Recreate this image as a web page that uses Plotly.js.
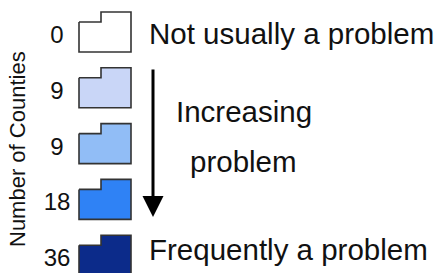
<!DOCTYPE html>
<html>
<head>
<meta charset="utf-8">
<script src="https://cdn.plot.ly/plotly-3.0.1.min.js"></script>
<style>html,body{margin:0;padding:0;background:#fff;}#chart{width:440px;height:273px;}</style>
</head>
<body>
<div id="chart"></div>
<script>
// Data
const counts = [0, 9, 9, 18, 36];
const fillColors = ['#ffffff', '#c9d6f7', '#91bdf6', '#2f82f5', '#0c2b8a'];
const topLabel = 'Not usually a problem';
const bottomLabel = 'Frequently a problem';
const middleLabels = ['Increasing', 'problem'];
const axisLabel = 'Number of Counties';

// Layout of legend glyphs (pixel-like data space)
const rowTop = 12, rowStep = 55.8;
const gx0 = 79, gxStep = 101, gx1 = 131, glyphH = 40, notch = 10;

const traces = [];
counts.forEach((c, i) => {
  const t = rowTop + i * rowStep;
  traces.push({
    type: 'scatter', mode: 'lines', fill: 'toself',
    x: [gx0, gxStep, gxStep, gx1, gx1, gx0, gx0],
    y: [t + notch, t + notch, t, t, t + glyphH, t + glyphH, t + notch],
    fillcolor: fillColors[i],
    line: {color: '#333333', width: 1.6},
    hoverinfo: 'skip', showlegend: false
  });
});
traces.push({
  type: 'scatter', mode: 'text',
  x: counts.map(() => 57),
  y: counts.map((c, i) => rowTop + i * rowStep + 25),
  text: counts.map(String),
  textposition: 'middle center',
  textfont: {family: 'Liberation Sans, Arial, sans-serif', size: 24, color: '#111'},
  hoverinfo: 'skip', showlegend: false
});

const font = {family: 'Liberation Sans, Arial, sans-serif', color: '#111'};
const big = 29.5;
const layout = {
  width: 440, height: 273,
  margin: {l: 0, r: 0, t: 0, b: 0},
  paper_bgcolor: '#fff', plot_bgcolor: '#fff',
  xaxis: {range: [0, 440], visible: false, fixedrange: true},
  yaxis: {range: [273, 0], visible: false, fixedrange: true},
  annotations: [
    {text: topLabel, x: 147, y: 33, xref: 'x', yref: 'y', xanchor: 'left', yanchor: 'middle', showarrow: false, font: Object.assign({size: big}, font)},
    {text: middleLabels[0], x: 174, y: 111, xref: 'x', yref: 'y', xanchor: 'left', yanchor: 'middle', showarrow: false, font: Object.assign({size: big}, font)},
    {text: middleLabels[1], x: 188, y: 161, xref: 'x', yref: 'y', xanchor: 'left', yanchor: 'middle', showarrow: false, font: Object.assign({size: big}, font)},
    {text: bottomLabel, x: 147, y: 249, xref: 'x', yref: 'y', xanchor: 'left', yanchor: 'middle', showarrow: false, font: Object.assign({size: big}, font)},
    {text: axisLabel, x: 17, y: 149, xref: 'x', yref: 'y', xanchor: 'center', yanchor: 'middle', textangle: -90, showarrow: false, font: Object.assign({size: 22}, font)},
    {text: '', x: 153, y: 217, ax: 153, ay: 68, xref: 'x', yref: 'y', axref: 'x', ayref: 'y', showarrow: true, arrowhead: 2, arrowsize: 1.4, arrowwidth: 3, arrowcolor: '#000'}
  ]
};
Plotly.newPlot('chart', traces, layout, {staticPlot: true, displayModeBar: false});
</script>
</body>
</html>
